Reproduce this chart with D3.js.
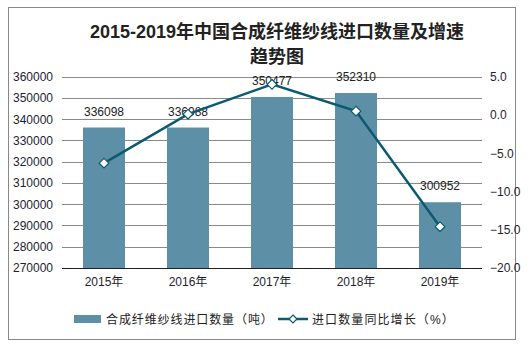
<!DOCTYPE html>
<html><head><meta charset="utf-8">
<script src="https://cdn.jsdelivr.net/npm/d3@7"></script>
<style>body{margin:0;background:#fff}svg{display:block}</style>
</head><body>
<svg id="c" width="530" height="348"></svg>
<script>
const categories = ["2015年","2016年","2017年","2018年","2019年"];
const importVolume = [336098, 336088, 350477, 352310, 300952];
const growthRate = [-6.3, 0.1, 4.0, 0.5, -14.6];
const leftTicks = [270000,280000,290000,300000,310000,320000,330000,340000,350000,360000];
const rightTicks = [-20,-15,-10,-5,0,5];
const titleLines = ["2015-2019年中国合成纤维纱线进口数量及增速","趋势图"];
const legendLabels = ["合成纤维纱线进口数量（吨）","进口数量同比增长（%）"];

const svg = d3.select("#c");
const font = "'Liberation Sans', Arial, 'Noto Sans CJK SC', sans-serif";
const barColor = "#5d90a6", lineColor = "#0c5a72";
const L = 62, R = 482, T = 76.7, B = 268;

svg.append("rect").attr("x",8.5).attr("y",7.5).attr("width",507).attr("height",332)
  .attr("fill","#fff").attr("stroke","#888").attr("stroke-width",1);

svg.selectAll("text.title").data(titleLines).enter().append("text")
  .attr("x",277).attr("y",(d,i)=>38+i*25).attr("text-anchor","middle")
  .attr("font-family",font).attr("font-weight","bold").attr("font-size",18)
  .attr("fill","#222").text(d=>d);

const x = d3.scaleBand().domain(categories).range([L,R]).paddingInner(0.5).paddingOuter(0.25);
const y = d3.scaleLinear().domain([270000,360000]).range([B,T]);
const y2 = d3.scaleLinear().domain([-20,5]).range([B,T]);

// grid
svg.append("g").selectAll("line").data(leftTicks.slice(1)).enter().append("line")
  .attr("x1",L).attr("x2",R).attr("y1",d=>Math.round(y(d))+0.5).attr("y2",d=>Math.round(y(d))+0.5)
  .attr("stroke","#8a8a8a").attr("stroke-width",1);

// left axis
const ga = svg.append("g").attr("transform",`translate(${L},0)`)
  .call(d3.axisLeft(y).tickValues(leftTicks).tickFormat(d3.format("d")).tickSize(0).tickPadding(9));
ga.select(".domain").remove();
ga.selectAll("text").attr("font-family",font).attr("font-size",12).attr("fill","#1e1e30");

// right axis
const gr = svg.append("g").attr("transform",`translate(${R},0)`)
  .call(d3.axisRight(y2).tickValues(rightTicks).tickFormat(d3.format(".1f")).tickSize(0).tickPadding(8));
gr.select(".domain").remove();
gr.selectAll("text").attr("font-family",font).attr("font-size",12).attr("fill","#1e1e30");

// bars
svg.append("g").selectAll("rect").data(importVolume).enter().append("rect")
  .attr("x",(d,i)=>x(categories[i])).attr("width",x.bandwidth())
  .attr("y",d=>y(d)).attr("height",d=>B-y(d)).attr("fill",barColor);

// baseline
svg.append("line").attr("x1",L).attr("x2",R).attr("y1",B+0.5).attr("y2",B+0.5)
  .attr("stroke","#222").attr("stroke-width",1);

// x labels
const gx = svg.append("g").attr("transform",`translate(0,${B})`)
  .call(d3.axisBottom(x).tickSize(0).tickPadding(9));
gx.select(".domain").remove();
gx.selectAll("text").attr("font-family",font).attr("font-size",12).attr("fill","#1e1e30");

// bar value labels
svg.append("g").selectAll("text").data(importVolume).enter().append("text")
  .attr("x",(d,i)=>x(categories[i])+x.bandwidth()/2).attr("y",d=>y(d)-12)
  .attr("text-anchor","middle").attr("font-family",font).attr("font-size",12)
  .attr("fill","#222").text(d=>d);

// line
const cx = (i)=>x(categories[i])+x.bandwidth()/2;
const line = d3.line().x((d,i)=>cx(i)).y(d=>y2(d));
svg.append("path").datum(growthRate).attr("d",line).attr("fill","none")
  .attr("stroke",lineColor).attr("stroke-width",2.5);
const diamond = d3.symbol().type(d3.symbolDiamond2).size(60);
svg.append("g").selectAll("path").data(growthRate).enter().append("path")
  .attr("d",diamond).attr("transform",(d,i)=>`translate(${cx(i)},${y2(d)})`)
  .attr("fill","#fff").attr("stroke",lineColor).attr("stroke-width",1.2);

// legend
const lg = svg.append("g");
lg.append("rect").attr("x",74).attr("y",315).attr("width",27).attr("height",8).attr("fill",barColor);
lg.append("text").attr("x",106).attr("y",323.5).attr("font-family",font).attr("font-size",12)
  .attr("letter-spacing",0.9).attr("fill","#222").text(legendLabels[0]);
lg.append("line").attr("x1",278).attr("x2",308).attr("y1",319).attr("y2",319)
  .attr("stroke",lineColor).attr("stroke-width",2.5);
lg.append("path").attr("d",d3.symbol().type(d3.symbolDiamond2).size(40))
  .attr("transform","translate(293,319)").attr("fill","#fff").attr("stroke",lineColor).attr("stroke-width",1.2);
lg.append("text").attr("x",312).attr("y",323.5).attr("font-family",font).attr("font-size",12)
  .attr("letter-spacing",1.1).attr("fill","#222").text(legendLabels[1]);
</script>
</body></html>
